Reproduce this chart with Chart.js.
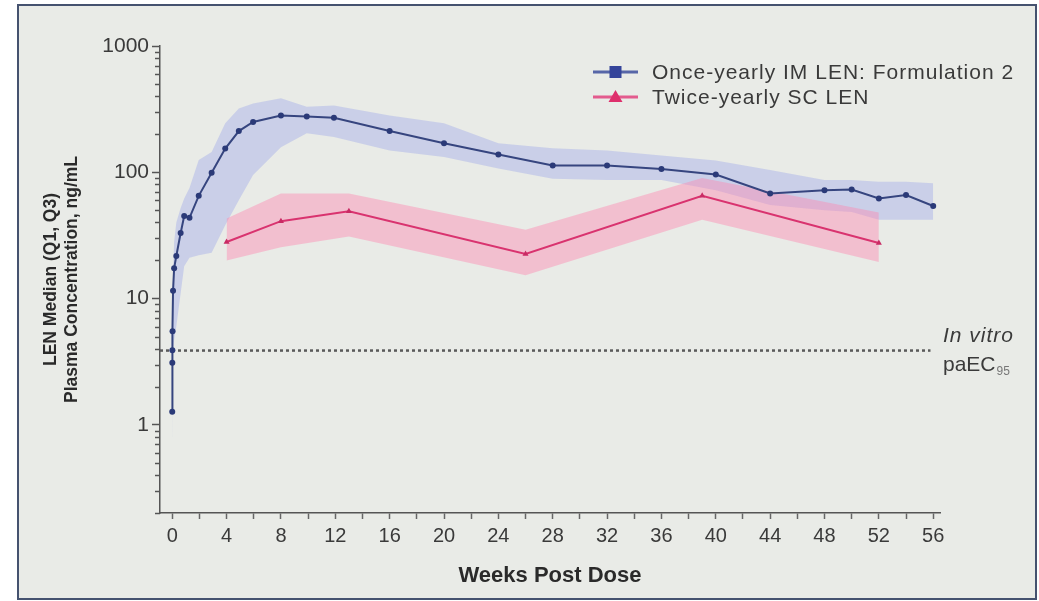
<!DOCTYPE html>
<html>
<head>
<meta charset="utf-8">
<script src="https://cdn.jsdelivr.net/npm/chart.js@4.4.1/dist/chart.umd.min.js"></script>
<style>
  html, body { margin: 0; padding: 0; background: #ffffff; }
  #wrap { position: relative; width: 1039px; height: 601px; overflow: hidden; }
  #frame { position: absolute; left: 17px; top: 4px; width: 1020px; height: 596px; box-sizing: border-box;
           border: 2px solid #45526f; background: #e9ebe7; }
  #c { position: absolute; left: 0; top: 0; }
</style>
</head>
<body>
<div id="wrap">
  <div id="frame"></div>
  <canvas id="c" width="1039" height="601"></canvas>
</div>
<script>
// Series names
const seriesNames = ['Once-yearly IM LEN: Formulation 2', 'Twice-yearly SC LEN'];

// Once-yearly IM LEN (Formulation 2): weeks post dose, median, Q1, Q3 (ng/mL)
const imWeeks  = [0, 0.006, 0.012, 0.024, 0.06, 0.14, 0.3, 0.62, 0.88, 1.27, 1.95, 2.9, 3.9, 4.9, 5.95, 8, 9.9, 11.9, 16, 20, 24, 28, 32, 36, 40, 44, 48, 50, 52, 54, 56];
const imMedian = [1.27, 3.1, 3.9, 5.5, 11.5, 17.4, 21.7, 33, 45, 43.6, 65, 99, 154, 212, 250, 282, 277, 270, 212, 170, 138, 113, 113, 106, 96, 68, 72, 73, 62, 66, 54];
const imQ1     = [0.8, 2.4, 2.9, 3.4, 4.0, 4.7, 6.0, 11, 18, 21, 22, 23, 38, 60, 95, 158, 204, 190, 149, 132, 107, 89, 87, 87, 72, 55, 50, 48.5, 42, 42, 42];
const imQ3     = [1.6, 4.2, 5.2, 8, 16, 28, 40, 52, 62, 75, 125, 145, 244, 320, 351, 385, 330, 338, 282, 244, 170, 155, 149, 136, 124, 104, 87, 87, 84, 84, 82];

// Twice-yearly SC LEN
const scWeeks  = [4, 8, 13, 26, 39, 52];
const scMedian = [28, 41, 49, 22.5, 65, 27.5];
const scQ1     = [20, 25.5, 31, 15.3, 42, 19.5];
const scQ3     = [43, 68, 68, 35, 90, 48];

// In vitro protein-adjusted EC95 reference line (ng/mL) and its extent in weeks
const paEC95 = 3.87;
const paEC95Span = [-0.9, 55.8];

// Axis labels
const xTickLabels = [0, 4, 8, 12, 16, 20, 24, 28, 32, 36, 40, 44, 48, 52, 56];
const yTickLabels = [1, 10, 100, 1000];

const FONT = '"Liberation Sans", Arial, Helvetica, sans-serif';
const pts = (xs, ys) => xs.map((x, i) => ({ x: x, y: ys[i] }));

// Short minor ticks on the log axis
const minorTicks = {
  id: 'minorTicks',
  afterDraw(chart) {
    const s = chart.scales.y, ctx = chart.ctx;
    ctx.save();
    ctx.strokeStyle = '#555';
    ctx.lineWidth = 1.5;
    s.ticks.forEach(t => {
      if (yTickLabels.includes(t.value)) return;
      const y = Math.round(s.getPixelForValue(t.value)) + 0.5;
      ctx.beginPath();
      ctx.moveTo(s.right - 5, y);
      ctx.lineTo(s.right, y);
      ctx.stroke();
    });
    ctx.restore();
  }
};

// Key with line + marker swatches, top right of the plot
const seriesKey = {
  id: 'seriesKey',
  afterDraw(chart) {
    const { ctx, chartArea } = chart;
    const x0 = chartArea.right - 347, y0 = chartArea.top + 26, gap = 25;
    const items = [
      { label: seriesNames[0], line: '#5766a8', mark: '#34449a', shape: 'rect' },
      { label: seriesNames[1], line: '#e35b8e', mark: '#de2f6c', shape: 'triangle' }
    ];
    ctx.save();
    items.forEach((it, i) => {
      const y = y0 + i * gap;
      ctx.strokeStyle = it.line;
      ctx.lineWidth = 3;
      ctx.beginPath();
      ctx.moveTo(x0, y);
      ctx.lineTo(x0 + 45, y);
      ctx.stroke();
      ctx.fillStyle = it.mark;
      const cx = x0 + 22.5;
      if (it.shape === 'rect') {
        ctx.fillRect(cx - 6, y - 6, 12, 12);
      } else {
        ctx.beginPath();
        ctx.moveTo(cx, y - 7);
        ctx.lineTo(cx + 7, y + 5);
        ctx.lineTo(cx - 7, y + 5);
        ctx.closePath();
        ctx.fill();
      }
      ctx.fillStyle = '#3a3a3a';
      ctx.font = '21px ' + FONT;
      ctx.letterSpacing = '1px';
      ctx.textAlign = 'left';
      ctx.textBaseline = 'middle';
      ctx.fillText(it.label, x0 + 59, y + 1);
    });
    ctx.restore();
  }
};

// Label for the paEC95 line, right of the plot
const refLabel = {
  id: 'refLabel',
  afterDraw(chart) {
    const ctx = chart.ctx;
    const y = chart.scales.y.getPixelForValue(paEC95);
    const x = chart.chartArea.right + 3;
    ctx.save();
    ctx.fillStyle = '#3a3a3a';
    ctx.textAlign = 'left';
    ctx.textBaseline = 'middle';
    ctx.font = 'italic 21px ' + FONT;
    ctx.letterSpacing = '1px';
    ctx.fillText('In vitro', x, y - 14);
    ctx.letterSpacing = '0px';
    ctx.font = '21px ' + FONT;
    ctx.fillText('paEC', x, y + 15);
    const w = ctx.measureText('paEC').width;
    ctx.fillStyle = '#777';
    ctx.font = '12px ' + FONT;
    ctx.fillText('95', x + w + 1, y + 21);
    ctx.restore();
  }
};

new Chart(document.getElementById('c'), {
  type: 'line',
  data: {
    datasets: [
      { label: seriesNames[0], data: pts(imWeeks, imMedian), order: 0,
        borderColor: '#36457f', borderWidth: 2, pointRadius: 3, pointBackgroundColor: '#2b3a78',
        pointBorderWidth: 0, fill: false, tension: 0 },
      { label: seriesNames[1], data: pts(scWeeks, scMedian), order: 1,
        borderColor: '#d9336f', borderWidth: 2, pointStyle: 'triangle', pointRadius: 3.5,
        pointBackgroundColor: '#c92b64', pointBorderWidth: 0, fill: false, tension: 0 },
      { label: 'SC Q3', data: pts(scWeeks, scQ3), order: 2, borderWidth: 0, pointRadius: 0,
        fill: '+1', backgroundColor: 'rgba(255, 130, 175, 0.42)', tension: 0 },
      { label: 'SC Q1', data: pts(scWeeks, scQ1), order: 3, borderWidth: 0, pointRadius: 0,
        fill: false, tension: 0 },
      { label: 'IM Q3', data: pts(imWeeks, imQ3), order: 4, borderWidth: 0, pointRadius: 0,
        fill: '+1', backgroundColor: 'rgba(140, 152, 235, 0.33)', tension: 0 },
      { label: 'IM Q1', data: pts(imWeeks, imQ1), order: 5, borderWidth: 0, pointRadius: 0,
        fill: false, tension: 0 },
      { label: 'paEC95', data: paEC95Span.map(x => ({ x: x, y: paEC95 })), order: 6,
        borderColor: '#5a5a5a', borderWidth: 2.5, borderDash: [3, 3], pointRadius: 0, fill: false }
    ]
  },
  options: {
    responsive: false,
    animation: false,
    devicePixelRatio: 1,
    layout: { padding: { left: 20, top: 46, right: 99, bottom: 0 } },
    plugins: { legend: { display: false }, tooltip: { enabled: false } },
    scales: {
      x: {
        type: 'linear', min: -0.9, max: 56.5,
        afterFit: s => { s.height = 88; },
        afterBuildTicks: s => {
          const t = [];
          for (let v = 0; v <= 56; v += 2) t.push({ value: v });
          s.ticks = t;
        },
        ticks: {
          autoSkip: false, maxRotation: 0, padding: 5, color: '#3a3a3a',
          font: { family: FONT, size: 20 },
          callback: v => xTickLabels.includes(v) ? String(v) : ''
        },
        grid: { drawOnChartArea: false, drawTicks: true, tickLength: 6, tickWidth: 1.5, tickColor: '#666' },
        border: { display: true, color: '#555', width: 1.5 },
        title: { display: true, text: 'Weeks Post Dose', color: '#2a2a2a',
                 font: { family: FONT, size: 22, weight: 'bold' }, padding: { top: 0, bottom: 12 } }
      },
      y: {
        type: 'logarithmic', min: 0.2, max: 1000,
        afterFit: s => { s.width = 140; },
        afterBuildTicks: s => {
          const t = [];
          for (let e = -1; e <= 3; e++) {
            for (let m = 1; m <= 9; m++) {
              const v = +(m * Math.pow(10, e)).toPrecision(3);
              if (v >= 0.2 && v <= 1000) t.push({ value: v });
            }
          }
          s.ticks = t;
        },
        ticks: {
          autoSkip: false, padding: 3, color: '#3a3a3a',
          font: { family: FONT, size: 21 },
          callback: v => yTickLabels.includes(v) ? String(v) : ''
        },
        grid: { drawOnChartArea: false, drawTicks: true, tickLength: 8, tickWidth: 1.5,
                tickColor: c => (c.tick && yTickLabels.includes(c.tick.value)) ? '#555' : 'rgba(0,0,0,0)' },
        border: { display: true, color: '#555', width: 1.5 },
        title: { display: true, text: ['LEN Median (Q1, Q3)', 'Plasma Concentration, ng/mL'], color: '#2a2a2a',
                 font: { family: FONT, size: 17.5, weight: 'bold', lineHeight: 1.22 }, padding: { top: 20, bottom: 0 } }
      }
    }
  },
  plugins: [minorTicks, seriesKey, refLabel]
});
</script>
</body>
</html>
